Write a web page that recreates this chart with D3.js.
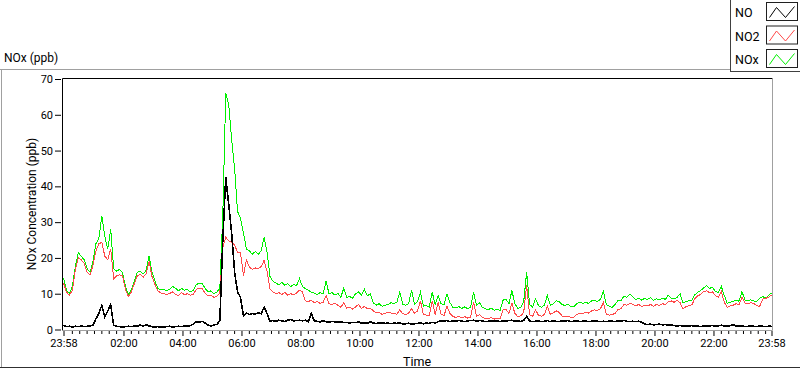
<!DOCTYPE html>
<html><head><meta charset="utf-8">
<script src="https://cdn.jsdelivr.net/npm/d3@7"></script>
<style>
body{margin:0;background:#fff}
svg{display:block}
text{font-family:Roboto,"Segoe UI",Arial,sans-serif;fill:#000}
</style>
</head><body>
<svg id="chart" width="800" height="369"></svg>
<script>
// ---- data ----
const seriesNames = ["NO", "NO2", "NOx"];
const sampleStepMinutes = 6; // one reading every 6 minutes starting at 23:58
const noValues = [
1.2,0.8,0.9,0.7,0.9,0.8,1.0,0.8,0.9,1.0,
1.2,3,4.5,6.8,3.5,5.2,6.9,1.2,0.9,0.8,
0.7,0.8,0.9,0.8,1.0,0.9,1.3,0.9,1.4,1.0,
0.8,0.7,0.8,0.6,0.7,0.8,0.9,0.7,0.8,0.9,
0.8,1.0,0.9,1.1,1.5,2.2,2.0,2.3,1.8,1.2,
1.0,1.3,1.4,2.5,25,42.5,35,27,16,10.5,
9,3.8,4.6,4.2,4.5,4.3,4.7,4.4,6.2,4.5,
2.3,2.5,2.3,2.6,2.4,2.2,2.6,2.8,2.4,2.5,
2.6,2.4,2.6,2.2,4.5,2.4,2.3,2.1,2.5,2.2,
2.0,2.3,2.1,2.0,2.2,1.9,2.0,1.8,2.0,1.9,
2.1,1.8,1.9,1.7,2.2,1.8,1.7,1.8,1.9,1.7,
1.8,1.6,1.8,1.7,1.9,1.5,1.6,1.8,1.5,1.6,
1.7,1.9,1.6,1.8,1.7,2.0,1.8,2.2,2.4,2.3,
2.5,2.2,2.4,2.3,2.5,2.4,2.2,2.4,2.5,2.6,
2.3,2.5,2.4,2.2,2.3,2.4,2.3,2.5,2.2,2.4,
2.3,2.5,2.6,2.3,2.4,2.2,2.5,3.7,2.4,2.2,
2.3,2.4,2.2,2.3,2.5,2.2,2.4,2.3,2.2,2.4,
2.3,2.5,2.2,2.3,2.4,2.2,2.3,2.4,2.2,2.3,
2.4,2.3,2.2,2.3,2.2,2.4,2.3,2.2,2.4,2.3,
2.5,2.3,2.2,2.3,2.2,2.3,2.1,1.5,1.4,1.5,
1.3,1.4,1.5,1.3,1.4,1.2,1.3,1.1,1.0,1.1,
0.9,1.0,0.9,1.1,0.9,1.0,0.8,1.0,0.9,1.0,
1.1,0.9,1.0,1.2,1.0,0.9,1.1,1.3,1.0,0.9,
1.0,0.8,0.9,1.0,0.9,0.8,1.0,0.9,0.8,0.9,
1.0];
const no2Values = [
13,10.5,9.5,11,16.5,20,19.5,18.5,16,15.2,
18,22,24,24.3,20.5,19.5,22.5,14.2,15,15.3,
15,11.2,9.2,10.5,12.8,15,15.4,14.6,15.5,19,
14.8,12.6,10.8,10.2,10,9.8,10.1,10.5,9.7,9.6,
10.3,9.7,10,9.6,9.8,11.2,11.6,11.4,10.2,9.4,
9.6,9,9.3,10.2,23,25.8,24.8,24.3,23.6,21.6,
21.5,15,19.5,17.5,16.8,17.2,17,17.6,19.3,16.2,
11.4,10.5,10,10.3,9.8,10.4,9.6,10,9.7,10.2,
11,10.5,8,7.8,8.2,7.5,7.8,7.3,7.6,9.5,
7.2,7,7.3,6.8,6.2,7.5,6,6.2,5.7,6.3,
7,5.8,6.5,5.8,6,5.2,4.6,4.8,4.2,4.5,
4.8,4.6,4.5,4.3,5.5,4.4,4.2,4.6,5.8,4.5,
5.2,8,4.2,4,3.8,8,4.2,7.4,4.3,3.9,
6.5,4.5,3.6,3.4,3.7,3.3,3.6,3.2,3.5,7.6,
3.6,4.2,3.3,3.1,3,3.4,2.9,3.2,3,5.5,
5.6,4.5,7.4,4.5,3.6,3.8,4.8,12.3,4.2,3.6,
5.5,4,3.7,4.2,6.5,4.3,4.6,5.2,4.8,3.8,
3.5,3.8,3.3,3.5,4.2,4.6,4.4,4.8,4.6,5.2,
5.5,5.3,5.8,7.5,4.3,4,4.2,4.5,5.6,5.8,
7,6.8,7.3,7,6.6,7,6.4,6.8,6.6,7,
6.5,7,6.7,7.2,7,7.8,8,7.6,8.2,7.5,
5.8,6.4,6.6,6.9,8.6,9.4,9.8,10.6,10.8,10.3,
10.5,9.4,9,10.6,7.6,6.2,6.6,6.8,7.2,7,
9,7.4,7.2,7.5,7.3,6.6,6.5,8.5,8.7,9,
9.6];
const noxValues = [
14.5,11,10,12,17.5,21.5,20.5,19.5,17,16,
19,24,25.5,31.8,26,22.5,28,17,16.3,16.8,
16,12,9.8,11,13.5,16,16.2,15.5,16.5,20.5,
16,13.5,11.5,11,11.2,10.8,11.3,12,11.5,10.8,
11.5,11,11.2,10.5,11,12.5,13,12.8,11.5,10.5,
10.8,10,10.5,11.5,32,66,63,53,45,33,
31,27,22.5,22,21,21.8,21,22,25.8,21.6,
14.8,13.5,13,12.5,13.2,12.4,12.8,12,12.6,12.3,
14.2,12,11.4,11,10.4,10.2,9.8,10.3,10,13.5,
10,10.3,9.6,10.1,9,11.5,9,9.2,8.8,10,
10.5,9.6,11.2,9.4,10,7.5,6.8,7.2,6.5,6.8,
7,7.5,7.2,7.6,10.5,7,6.8,7.2,11,7,
7.8,10.4,6.5,6.7,6.3,10.4,6.9,9.5,7.2,7,
10,7.5,6.2,6,6.4,5.9,6.3,5.8,6.2,10.4,
6.8,7.5,6.2,5.8,5.5,6,5.4,5.6,5.3,8.2,
8.5,7.2,10.9,7.2,5.9,6.2,7.8,16,7,6.3,
8.5,6.7,6.2,6.8,9.5,6.8,7.2,8,7.8,7,
6.7,7,6.4,6.3,7.2,7.6,7.3,7.6,7.3,8,
8.2,7.8,8.4,10.6,7,6.5,6.2,7,8.2,8,
9.4,9,9.8,9.2,8.3,8.8,8.2,8.7,8.4,8.9,
8.1,8.6,8.3,8.8,8.4,9.6,8.8,8.5,9,10,
7.5,7.8,8,8.2,9.7,10.4,10.9,11.6,12.3,11.5,
11.8,10.6,10.3,12,9.5,7.3,7.6,7.8,8.2,7.9,
10.6,8.2,8,8.3,8,7.8,8.7,9.2,8.8,9.5,
10.2];
const xTickMinutes = [0,122,242,362,482,602,722,842,962,1082,1202,1322,1440];
const xTickLabels = ["23:58","02:00","04:00","06:00","08:00","10:00","12:00","14:00","16:00","18:00","20:00","22:00","23:58"];
const yTickValues = [0,10,20,30,40,50,60,70];
const totalMinutes = 1440;

// ---- drawing ----
const svg = d3.select("#chart");
const colors = {NO:"#000000", NO2:"#ff4a4a", NOx:"#00f000"};

// outer frame
svg.append("line").attr("x1",0).attr("x2",730).attr("y1",69.5).attr("y2",69.5).attr("stroke","#a0a0a0");
svg.append("line").attr("x1",1.5).attr("x2",1.5).attr("y1",69).attr("y2",368).attr("stroke","#a0a0a0");
svg.append("line").attr("x1",0).attr("x2",800).attr("y1",367.5).attr("y2",367.5).attr("stroke","#303030");

svg.append("text").attr("x",4).attr("y",62).attr("font-size",12).text("NOx (ppb)");

const x = d3.scaleLinear().domain([0,totalMinutes]).range([63.5,771.5]);
const y = d3.scaleLinear().domain([0,70]).range([329.5,79]);

// plot frame
svg.append("rect").attr("x",62.5).attr("y",78.5).attr("width",710).attr("height",252).attr("fill","#fff").attr("stroke","none");
svg.append("path").attr("d","M62.5,330.5V78.5H772.5").attr("fill","none").attr("stroke","#000");
svg.append("path").attr("d","M772.5,78.5V330.5H62.5").attr("fill","none").attr("stroke","#a0a0a0");

svg.append("clipPath").attr("id","clip").append("rect").attr("x",63).attr("y",79).attr("width",709).attr("height",251);

const line = d3.line().x((d,i)=>x(i*sampleStepMinutes)).y(d=>y(d));
const g = svg.append("g").attr("clip-path","url(#clip)");
g.append("path").datum(noxValues).attr("d",line).attr("fill","none").attr("stroke",colors.NOx).attr("stroke-width",1).attr("shape-rendering","crispEdges");
g.append("path").datum(no2Values).attr("d",line).attr("fill","none").attr("stroke",colors.NO2).attr("stroke-width",1).attr("shape-rendering","crispEdges");
g.append("path").datum(noValues).attr("d",line).attr("fill","none").attr("stroke",colors.NO).attr("stroke-width",1.6).attr("shape-rendering","crispEdges");

// y axis
const yAxis = svg.append("g").attr("transform","translate(61,0)")
  .call(d3.axisLeft(y).tickValues(yTickValues).tickSize(6).tickPadding(2));
yAxis.select(".domain").remove();
yAxis.selectAll("text").attr("font-size",11).attr("font-family","Roboto,Arial,sans-serif").attr("fill","#000");
yAxis.selectAll("line").attr("stroke","#000");

// x axis minor ticks every 15 min from 00:00
const minor = d3.range(17, totalMinutes-5, 15).filter(m => !xTickMinutes.some(t => Math.abs(t-m) < 3));
const xMinor = svg.append("g").attr("transform","translate(0,331)")
  .call(d3.axisBottom(x).tickValues(minor).tickSize(3).tickFormat(""));
xMinor.select(".domain").remove();
xMinor.selectAll("line").attr("stroke","#000");

const xAxis = svg.append("g").attr("transform","translate(0,331)")
  .call(d3.axisBottom(x).tickValues(xTickMinutes).tickSize(5).tickPadding(3)
    .tickFormat((d,i)=>xTickLabels[i]));
xAxis.select(".domain").remove();
xAxis.selectAll("line").attr("stroke","#000");
xAxis.selectAll("text").attr("font-size",11).attr("font-family","Roboto,Arial,sans-serif").attr("fill","#000");

svg.append("text").attr("x",417).attr("y",366).attr("text-anchor","middle").attr("font-size",12.5).text("Time");
svg.append("text").attr("transform","translate(36,204) rotate(-90)").attr("text-anchor","middle")
  .attr("font-size",12).text("NOx Concentration (ppb)");

// legend
svg.append("rect").attr("x",730.5).attr("y",-1).attr("width",80).attr("height",72.5)
  .attr("fill","#fff").attr("stroke","#404040");
const legendRows = [0,1,2];
legendRows.forEach(i => {
  const name = seriesNames[i];
  const top = 2.5 + i*23.5;
  svg.append("text").attr("x",735).attr("y",top+14.5).attr("font-size",12.5).text(name);
  svg.append("rect").attr("x",766.5).attr("y",top).attr("width",31).attr("height",18)
    .attr("fill","#fff").attr("stroke","#202020");
  const x0 = 766.5, y0 = top;
  svg.append("path").attr("d",`M${x0+3},${y0+15}L${x0+10},${y0+5}L${x0+19},${y0+15}L${x0+28},${y0+4}`)
    .attr("fill","none").attr("stroke",colors[name]).attr("stroke-width",1);
});
</script>
</body></html>
